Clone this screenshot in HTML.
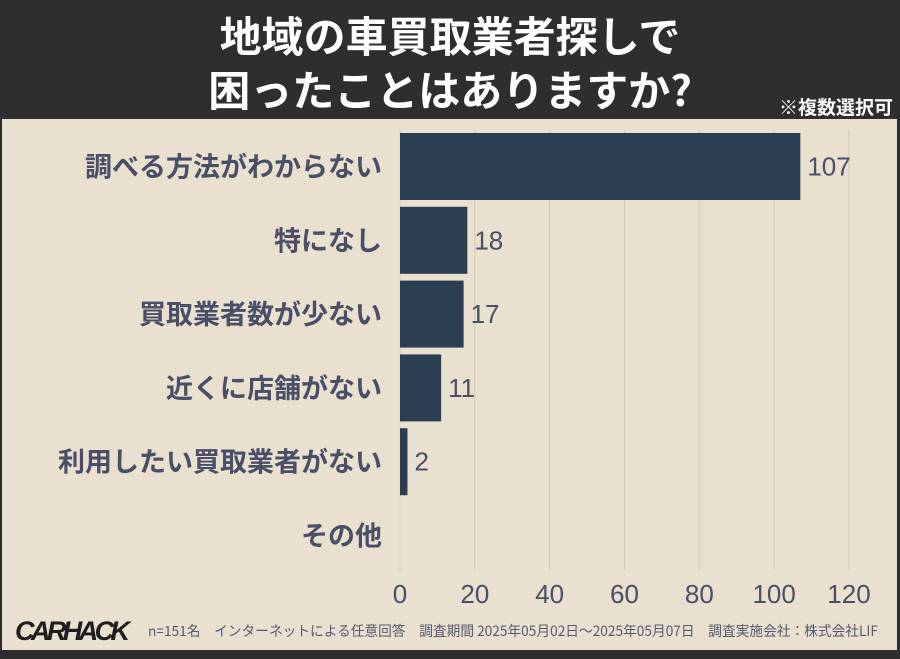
<!DOCTYPE html>
<html><head><meta charset="utf-8"><style>
body{margin:0;width:900px;height:654px;overflow:hidden;background:#2e2e2e;font-family:"Liberation Sans","Noto Sans CJK JP",sans-serif}
#wrap{position:absolute;left:0;top:0;width:900px;height:654px}
</style></head><body>
<div id="wrap">
<svg width="900" height="654">
<rect x="0" y="0" width="900" height="654" fill="#2e2e2e"/>
<rect x="2" y="119" width="895" height="531" fill="#e9e0cf"/>
<text x="450" y="52" text-anchor="middle" fill="#fff" font-size="42" font-weight="bold" font-family="Noto Sans CJK JP,sans-serif">地域の車買取業者探しで</text>
<text x="450" y="106" text-anchor="middle" fill="#fff" font-size="42" font-weight="bold" font-family="Noto Sans CJK JP,sans-serif">困ったことはありますか?</text>
<text x="893" y="114" text-anchor="end" fill="#fff" font-size="19" font-weight="bold" font-family="Noto Sans CJK JP,sans-serif">※複数選択可</text>
<g id="grid"></g><g id="bars"></g><g id="ticks"></g>
<text x="15" y="640" fill="#1e1e1e" font-size="27" font-weight="bold" font-style="italic" font-family="Liberation Sans,sans-serif" textLength="115">CARHACK</text>
<text x="148" y="636" fill="#555a70" font-size="14" font-family="Noto Sans CJK JP,sans-serif" textLength="730" lengthAdjust="spacingAndGlyphs">n=151名　インターネットによる任意回答　調査期間 2025年05月02日〜2025年05月07日　調査実施会社：株式会社LIF</text>
</svg></div>
<script>
const categories=["調べる方法がわからない","特になし","買取業者数が少ない","近くに店舗がない","利用したい買取業者がない","その他"];
const values=[107,18,17,11,2,0];
const ticks=[0,20,40,60,80,100,120];
const NS="http://www.w3.org/2000/svg";
const x0=400,xs=(849-400)/120;
const xScale=v=>x0+v*xs;
const rowTop=133,rowStep=73.8,barH=67;
function mk(t,a,p){const e=document.createElementNS(NS,t);for(const k in a)e.setAttribute(k,a[k]);document.getElementById(p).appendChild(e);return e;}
ticks.forEach(t=>{
 const g=mk("line",{x1:xScale(t),x2:xScale(t),y1:130,y2:570,stroke:"#d3cab9","stroke-width":1},"grid");
 
 
 const l=mk("text",{x:xScale(t),y:603,"text-anchor":"middle","font-size":26,fill:"#4a4f68"},"ticks");
 l.textContent=t;
 
 
});
categories.forEach((c,i)=>{
 const y=rowTop+i*rowStep;
 const b=mk("rect",{x:x0,y:y,width:xScale(values[i])-x0,height:barH,fill:"#2c3e52"},"bars");
 
 
 const lab=mk("text",{x:382,y:y+barH/2+10,"text-anchor":"end","font-size":27,"font-weight":"bold",fill:"#4a4f68","font-family":"Noto Sans CJK JP,sans-serif"},"bars");
 lab.textContent=c;
 
 
 if(values[i]>0){
  const v=mk("text",{x:xScale(values[i])+7,y:y+barH/2+9,"font-size":26,fill:"#4a4f68"},"bars");
  v.textContent=values[i];
  
  
 }
});
</script>
</body></html>
